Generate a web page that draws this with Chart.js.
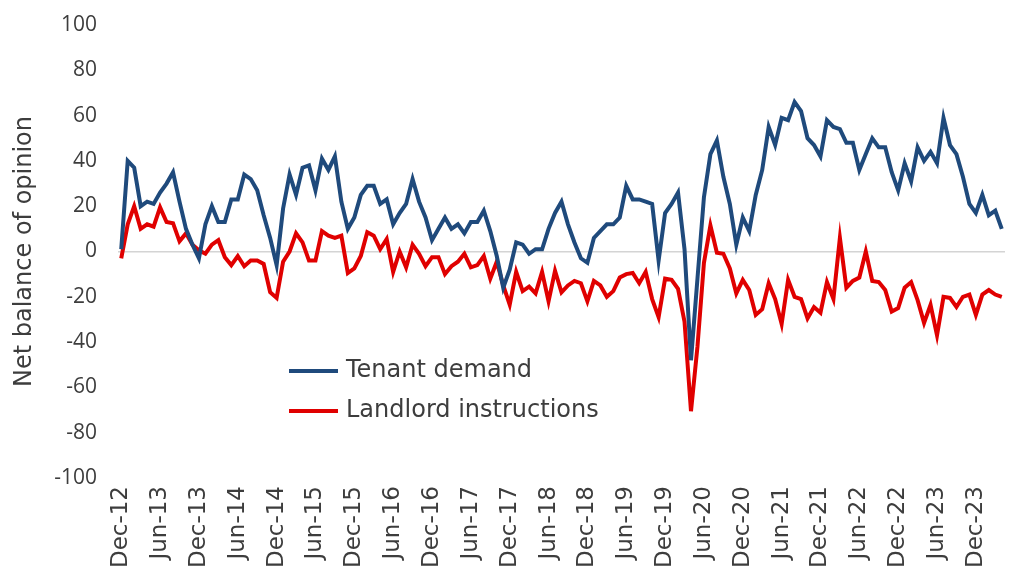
<!DOCTYPE html>
<html>
<head>
<meta charset="utf-8">
<script src="https://cdn.jsdelivr.net/npm/chart.js@4.4.1/dist/chart.umd.min.js"></script>
<style>
  html, body { margin: 0; padding: 0; background: #ffffff; }
  #wrap { width: 1015px; height: 576px; }
</style>
</head>
<body>
<div id="wrap"><canvas id="rentChart" width="1015" height="576"></canvas></div>
<script>
// Series, monthly from Dec-12 to Apr-24
const tenantDemand = [
  1, 40, 37, 20, 22, 21, 26, 30, 35, 22, 10, 3,
  -3, 12, 20, 13, 13, 23, 23, 34, 32, 27, 16, 6,
  -6, 19, 34, 25, 37, 38, 27, 41, 36, 42, 22, 10,
  15, 25, 29, 29, 21, 23, 12, 17, 21, 32, 22, 15,
  5, 10, 15, 10, 12, 8, 13, 13, 18, 9, -2, -16,
  -8, 4, 3, -1, 1, 1, 10, 17, 22, 12, 4, -3,
  -5, 6, 9, 12, 12, 15, 29, 23, 23, 22, 21, -4,
  17, 21, 26, 1, -48, -12, 24, 43, 49, 33, 21, 3,
  15, 9, 25, 36, 55, 47, 59, 58, 66, 62, 50, 47,
  42, 58, 55, 54, 48, 48, 36, 43, 50, 46, 46, 35,
  27, 39, 31, 46, 40, 44, 39, 59, 47, 43, 33, 21,
  17, 25, 16, 18, 10
];
const landlordInstructions = [
  -3, 12, 20, 10, 12, 11, 19.5, 13, 12.5, 4.5, 8, 3,
  0.5, -1, 3, 5, -2.5, -6, -2, -6.5, -4, -4, -5.5, -18,
  -20.5, -4.5, 0, 8, 4, -4, -4, 9, 7, 6, 7, -9.5,
  -7.5, -2, 8.5, 7, 1, 5.5, -9, 0, -7, 3, -1, -6.5,
  -2.5, -2.5, -10, -6.5, -4.5, -1, -7, -6, -2, -12, -4.5, -15,
  -23.5, -9, -17.5, -15.5, -18.5, -9, -22, -8.5, -18, -15, -13, -14,
  -22, -13, -15, -20, -17.5, -11.5, -10, -9.5, -14, -9, -21, -29,
  -12, -12.5, -16.5, -31, -70.5, -42, -5, 11.5, -0.5, -1, -7.5, -18.5,
  -12.5, -17, -28, -25.5, -14, -21, -32, -12.5, -20, -21, -29.5, -24.5,
  -27, -13.5, -21, 6, -16, -13, -11.5, 0, -13, -13.5, -17, -26.5,
  -25, -16, -13.5, -21.5, -31.5, -23.5, -37, -20, -20.5, -24.5, -20, -19,
  -28, -19, -17, -19, -20
];
const tickLabels = [
  'Dec-12', 'Jun-13', 'Dec-13', 'Jun-14', 'Dec-14', 'Jun-15', 'Dec-15', 'Jun-16',
  'Dec-16', 'Jun-17', 'Dec-17', 'Jun-18', 'Dec-18', 'Jun-19', 'Dec-19', 'Jun-20',
  'Dec-20', 'Jun-21', 'Dec-21', 'Jun-22', 'Dec-22', 'Jun-23', 'Dec-23'
];
const monthNames = ['Jan', 'Feb', 'Mar', 'Apr', 'May', 'Jun', 'Jul', 'Aug', 'Sep', 'Oct', 'Nov', 'Dec'];

// category labels, one per month starting Dec-12
const months = tenantDemand.map((_, i) => {
  const m = (11 + i) % 12;
  const y = 12 + Math.floor((11 + i) / 12);
  return monthNames[m] + '-' + y;
});

const textColor = '#3d3d3d';

// legend drawn inside the plot, like the original
const innerLegend = {
  id: 'innerLegend',
  afterDraw(chart) {
    const ctx = chart.ctx;
    const x0 = 289, y0 = 371, gap = 40;
    ctx.save();
    chart.data.datasets.forEach((ds, i) => {
      const y = y0 + i * gap;
      ctx.strokeStyle = ds.borderColor;
      ctx.lineWidth = 4;
      ctx.beginPath();
      ctx.moveTo(x0, y);
      ctx.lineTo(x0 + 49, y);
      ctx.stroke();
      ctx.fillStyle = textColor;
      ctx.font = '24px "DejaVu Sans"';
      ctx.textAlign = 'left';
      ctx.textBaseline = 'middle';
      ctx.fillText(ds.label, x0 + 57, y);
    });
    ctx.restore();
  }
};

new Chart(document.getElementById('rentChart'), {
  type: 'line',
  data: {
    labels: months,
    datasets: [{
      label: 'Tenant demand',
      data: tenantDemand,
      borderColor: '#1f4a7c',
      borderWidth: 4,
      pointRadius: 0,
      tension: 0
    }, {
      label: 'Landlord instructions',
      data: landlordInstructions,
      borderColor: '#e00000',
      borderWidth: 4,
      pointRadius: 0,
      tension: 0
    }]
  },
  options: {
    responsive: false,
    animation: false,
    layout: { padding: { top: 25, right: 10, left: 10, bottom: 0 } },
    plugins: {
      legend: { display: false },
      tooltip: { enabled: false }
    },
    scales: {
      x: {
        offset: true,
        grid: { display: false, drawTicks: false },
        border: { display: false },
        afterFit: (scale) => {
          scale.height = 98;
          scale.paddingLeft = 0;
          scale.paddingRight = 0;
          scale.paddingTop = 0;
          scale.paddingBottom = 0;
        },
        ticks: {
          autoSkip: false,
          maxRotation: 90,
          minRotation: 90,
          padding: 8,
          color: textColor,
          font: { family: '"DejaVu Sans"', size: 23 },
          callback: function (val) {
            const lab = this.getLabelForValue(val);
            return tickLabels.includes(lab) ? lab : '';
          }
        }
      },
      y: {
        min: -100,
        max: 100,
        afterFit: (scale) => {
          scale.width = 108;
          scale.paddingTop = 0;
          scale.paddingBottom = 0;
        },
        border: { display: false },
        grid: {
          drawTicks: false,
          color: (c) => c.tick && c.tick.value === 0 ? '#d4d4d4' : 'rgba(0,0,0,0)',
          lineWidth: 1.5
        },
        ticks: {
          stepSize: 20,
          padding: 21,
          color: textColor,
          font: { family: '"Open Sans"', size: 21 }
        },
        title: {
          display: true,
          text: 'Net balance of opinion',
          color: textColor,
          font: { family: '"DejaVu Sans"', size: 24 },
          padding: { top: 0, bottom: 0 }
        }
      }
    }
  },
  plugins: [innerLegend]
});
</script>
</body>
</html>
